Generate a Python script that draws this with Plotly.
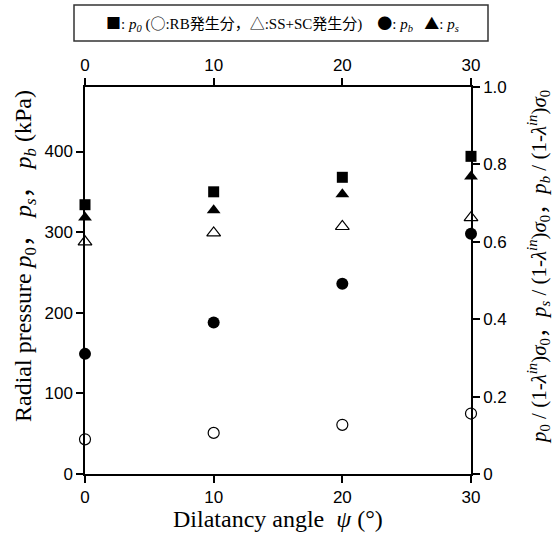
import plotly.graph_objects as go

psi = [0, 10, 20, 30]
p0 = [334, 350, 368, 394]
ps = [318, 327, 347, 369]
pb = [149, 188, 236, 298]
p0_ss_sc = [288, 299, 307, 318]
p0_rb = [43, 51, 61, 75]

x_ticks = [0, 10, 20, 30]
y_ticks = [0, 100, 200, 300, 400]
y2_ticks = [0, 0.2, 0.4, 0.6, 0.8, 1.0]
y2_ticklabels = ["0", "0.2", "0.4", "0.6", "0.8", "1.0"]

W, H = 553, 533
L, R, T, B = 85, 471, 87, 474

fig = go.Figure()

def add(vals, symbol, size, name, lw=0):
    fig.add_trace(go.Scatter(
        x=psi, y=vals, mode="markers", name=name, cliponaxis=False,
        marker=dict(symbol=symbol, size=size, color="black",
                    line=dict(color="black", width=lw)),
        showlegend=False))

add(p0, "square", 11, "p0")
add(ps, "triangle-up", 12, "ps")
add(p0_ss_sc, "triangle-up-open", 12, "SS+SC", 1.2)
add(pb, "circle", 12, "pb")
add(p0_rb, "circle-open", 11, "RB", 1.2)

# dummy trace for secondary axes
fig.add_trace(go.Scatter(x=[None], y=[None], xaxis="x2", yaxis="y2", showlegend=False))

tickfont = dict(family="Liberation Sans, Arial, sans-serif", size=17, color="black")
serif = "Liberation Serif, Times New Roman, Noto Sans CJK JP, serif"

common = dict(showgrid=False, zeroline=False, showline=True, linecolor="black",
              linewidth=1.5, ticks="outside", ticklen=7, tickwidth=1.5,
              tickcolor="black", tickfont=tickfont)

fig.update_layout(
    width=W, height=H,
    margin=dict(l=L, r=W - R, t=T, b=H - B),
    paper_bgcolor="white", plot_bgcolor="white",
    xaxis=dict(range=[0, 30], tickvals=x_ticks, **common),
    xaxis2=dict(range=[0, 30], tickvals=x_ticks, overlaying="x", side="top", **common),
    yaxis=dict(range=[0, 480], tickvals=y_ticks, **common),
    yaxis2=dict(range=[0, 1.0], tickvals=y2_ticks, ticktext=y2_ticklabels,
                overlaying="y", side="right", **common),
)

def px(x):
    return (x - L) / (R - L)

def py(y):
    return (B - y) / (B - T)

# legend box
fig.add_shape(type="rect", xref="paper", yref="paper",
              x0=px(74), x1=px(488), y0=py(41), y1=py(5),
              line=dict(color="#333", width=1.5), fillcolor="white")

def sym(s):
    return "<span style='font-family:Noto Sans CJK JP'>" + s + "</span>"

legend_text = (sym("■") + ": <i>p<sub>0</sub></i> (" + sym("○") + ":RB発生分，" + sym("△")
               + ":SS+SC発生分)&nbsp;&nbsp;&nbsp;&nbsp;" + sym("●") + ": <i>p<sub>b</sub></i>&nbsp;&nbsp;&nbsp;"
               + sym("▲") + ": <i>p<sub>s</sub></i>")
fig.add_annotation(xref="paper", yref="paper", x=px(282), y=py(23),
                   text=legend_text, showarrow=False,
                   font=dict(family=serif, size=15, color="black"),
                   xanchor="center", yanchor="middle")

fig.add_annotation(xref="paper", yref="paper", x=px(278), y=py(519),
                   text="Dilatancy angle&nbsp;&nbsp;<i>ψ</i> (°)", showarrow=False,
                   font=dict(family=serif, size=24, color="black"),
                   xanchor="center", yanchor="middle")

fig.add_annotation(xref="paper", yref="paper", x=px(25), y=py(256),
                   text="Radial pressure <i>p</i><sub>0</sub>，&nbsp;<i>p<sub>s</sub></i>，&nbsp;<i>p<sub>b</sub></i> (kPa)",
                   showarrow=False, textangle=-90,
                   font=dict(family=serif, size=24, color="black"),
                   xanchor="center", yanchor="middle")

rt = ("<i>p</i><sub>0</sub> / (1-<i>λ</i><sup><i>in</i></sup>)<i>σ</i><sub>0</sub>，"
      "<i>p<sub>s</sub></i> / (1-<i>λ</i><sup><i>in</i></sup>)<i>σ</i><sub>0</sub>，"
      "<i>p<sub>b</sub></i> / (1-<i>λ</i><sup><i>in</i></sup>)<i>σ</i><sub>0</sub>")
fig.add_annotation(xref="paper", yref="paper", x=px(538), y=py(267),
                   text=rt, showarrow=False, textangle=-90,
                   font=dict(family=serif, size=21, color="black"),
                   xanchor="center", yanchor="middle")

fig.write_html("out.html")
